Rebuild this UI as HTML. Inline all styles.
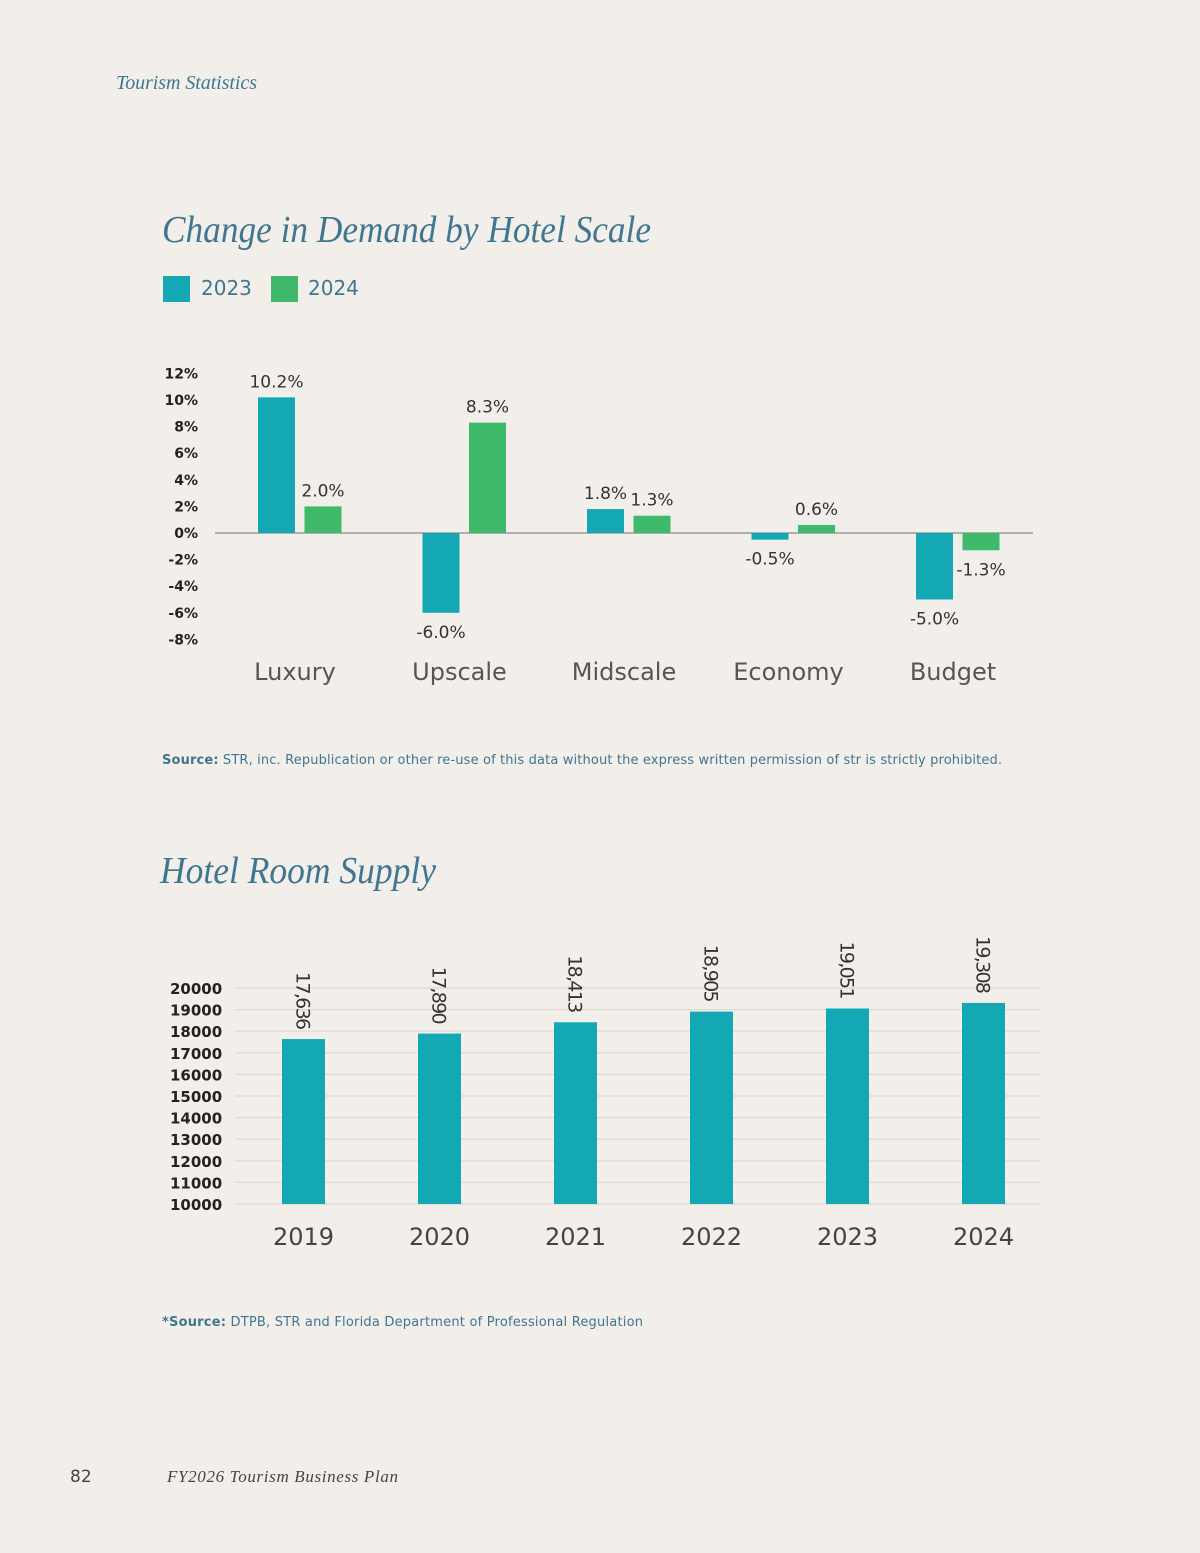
<!DOCTYPE html>
<html><head><meta charset="utf-8"><style>
html,body{margin:0;padding:0;background:#f2efeb;}
svg{display:block;}
.serif{font-family:"Liberation Serif",serif;font-style:italic;}
.sans{font-family:"DejaVu Sans","Liberation Sans",sans-serif;}
</style></head><body>
<svg id="page" width="1200" height="1553" viewBox="0 0 1200 1553">
<rect x="0" y="0" width="1200" height="1553" fill="#f2efeb"/>
<text x="116" y="89" class="serif" font-size="20" fill="#3f7690" textLength="141">Tourism Statistics</text>
<text x="162" y="242" class="serif" font-size="38" fill="#3f7690" textLength="489" lengthAdjust="spacingAndGlyphs">Change in Demand by Hotel Scale</text>
<rect x="163" y="276" width="27" height="26" fill="#14a8b4"/>
<text x="201" y="295" class="sans" font-size="20" fill="#3f7690">2023</text>
<rect x="271" y="276" width="27" height="26" fill="#3fb96a"/>
<text x="308" y="295" class="sans" font-size="20" fill="#3f7690">2024</text>
<g id="chart1"></g>
<text x="162" y="764" class="sans" font-size="13" fill="#3f7690" textLength="840"><tspan font-weight="bold">Source:</tspan> STR, inc. Republication or other re-use of this data without the express written permission of str is strictly prohibited.</text>
<text x="160" y="883" class="serif" font-size="38" fill="#3f7690" textLength="276" lengthAdjust="spacingAndGlyphs">Hotel Room Supply</text>
<g id="chart2"></g>
<text x="162" y="1326" class="sans" font-size="13" fill="#3f7690" textLength="481"><tspan font-weight="bold">*Source:</tspan> DTPB, STR and Florida Department of Professional Regulation</text>
<text x="70" y="1482" class="sans" font-size="17" fill="#444">82</text>
<text x="167" y="1482" class="serif" font-size="17" fill="#444" textLength="231">FY2026 Tourism Business Plan</text>
</svg>
<script>
const categories=["Luxury","Upscale","Midscale","Economy","Budget"];
const values2023=[10.2,-6.0,1.8,-0.5,-5.0];
const values2024=[2.0,8.3,1.3,0.6,-1.3];
const yTicks1=[12,10,8,6,4,2,0,-2,-4,-6,-8];
const years=["2019","2020","2021","2022","2023","2024"];
const supply=[17636,17890,18413,18905,19051,19308];
const yTicks2=[20000,19000,18000,17000,16000,15000,14000,13000,12000,11000,10000];

const NS="http://www.w3.org/2000/svg";
function mk(tag,attrs,parent,txt){const e=document.createElementNS(NS,tag);for(const k in attrs)e.setAttribute(k,attrs[k]);if(txt!==undefined)e.textContent=txt;parent.appendChild(e);return e;}
const fmt1=v=>v.toFixed(1)+"%";

const g1=document.getElementById('chart1');
const y1=v=>533-v*13.3;
const gx=i=>258+i*164.5;
yTicks1.forEach(t=>{const e=mk('text',{x:198,y:y1(t)+5,'text-anchor':'end','font-size':14,'font-weight':'bold',fill:'#222',class:'sans'},g1,t+"%");

});
const base=mk('line',{x1:215,x2:1033,y1:y1(0),y2:y1(0),stroke:'#999','stroke-width':1.5},g1);


categories.forEach((c,i)=>{
 [[values2023,'#14a8b4',0,'2023'],[values2024,'#3fb96a',46.5,'2024']].forEach(([arr,col,off,yr])=>{
  const v=arr[i],x=gx(i)+off,top=Math.min(y1(v),y1(0)),h=Math.abs(y1(v)-y1(0));
  const r=mk('rect',{x:x,y:top,width:37,height:h,fill:col},g1);
  
  
  const ly=v>=0?y1(v)-10:y1(v)+25;
  const t=mk('text',{x:x+18.5,y:ly,'text-anchor':'middle','font-size':17,fill:'#333',class:'sans'},g1,fmt1(v));
  
  
 });
 const cl=mk('text',{x:gx(i)+37,y:680,'text-anchor':'middle','font-size':24,fill:'#555',class:'sans'},g1,c);
 
 
});

const g2=document.getElementById('chart2');
const y2=v=>1204-(v-10000)*0.0216;
const bx=i=>282+i*136;
yTicks2.forEach(t=>{
 const l=mk('line',{x1:235,x2:1040,y1:y2(t),y2:y2(t),stroke:'#dcd8d3','stroke-width':1.2},g2);
 
 
 const e=mk('text',{x:170,y:y2(t)+6,'font-size':15,'font-weight':'bold',fill:'#222',class:'sans'},g2,String(t));
 
 
});
years.forEach((yr,i)=>{
 const v=supply[i],x=bx(i);
 const r=mk('rect',{x:x,y:y2(v),width:43,height:y2(10000)-y2(v),fill:'#14a8b4'},g2);
 
 
 const tx=x+21.5-7,ty=y2(v)-9;
 const t=mk('text',{x:tx,y:ty,'text-anchor':'end','font-size':19,fill:'#333',class:'sans',textLength:58,transform:`rotate(90 ${tx} ${ty})`},g2,v.toLocaleString('en-US'));
 
 
 const yl=mk('text',{x:x+21.5,y:1245,'text-anchor':'middle','font-size':24,fill:'#444',class:'sans'},g2,yr);
 
 
});
</script>
</body></html>
